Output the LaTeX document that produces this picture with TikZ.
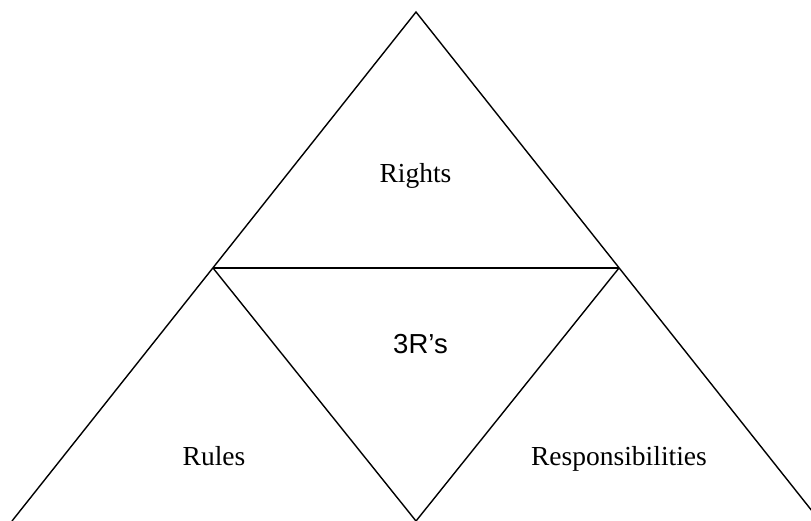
\documentclass[tikz,border=0pt]{standalone}
\usepackage{fontspec}
\setmainfont{Liberation Serif}
\newfontfamily\arialfont{Liberation Sans}
\tikzset{
  edge/.style={draw=black, line width=1.4pt, line join=miter},
  lbl/.style={anchor=base, inner sep=0pt, font=\fontsize{27.5}{33}\selectfont},
  lblsans/.style={lbl, font=\fontsize{27.5}{33}\arialfont}
}
\begin{document}
\begin{tikzpicture}[x=1pt,y=-1pt]
\useasboundingbox (0,0) rectangle (811,520);
\clip (0,0) rectangle (811,520);
\coordinate (apex) at (416,12);
\coordinate (ml) at (213,268);
\coordinate (mr) at (619,268);
\coordinate (bl) at (12,521);
\coordinate (bm) at (416,521);
\coordinate (br) at (820,521);
\draw[edge] (bl) -- (apex) -- (br);
\draw[edge] (ml) -- (mr);
\draw[edge] (ml) -- (bm) -- (mr);
\node[lbl] (rights) at (415.5,182) {Rights};
\node[lblsans] (three) at (420.5,353) {3R’s};
\node[lbl] (rules) at (214,465) {Rules};
\node[lbl] (resp) at (619,465) {Responsibilities};
\end{tikzpicture}
\end{document}
